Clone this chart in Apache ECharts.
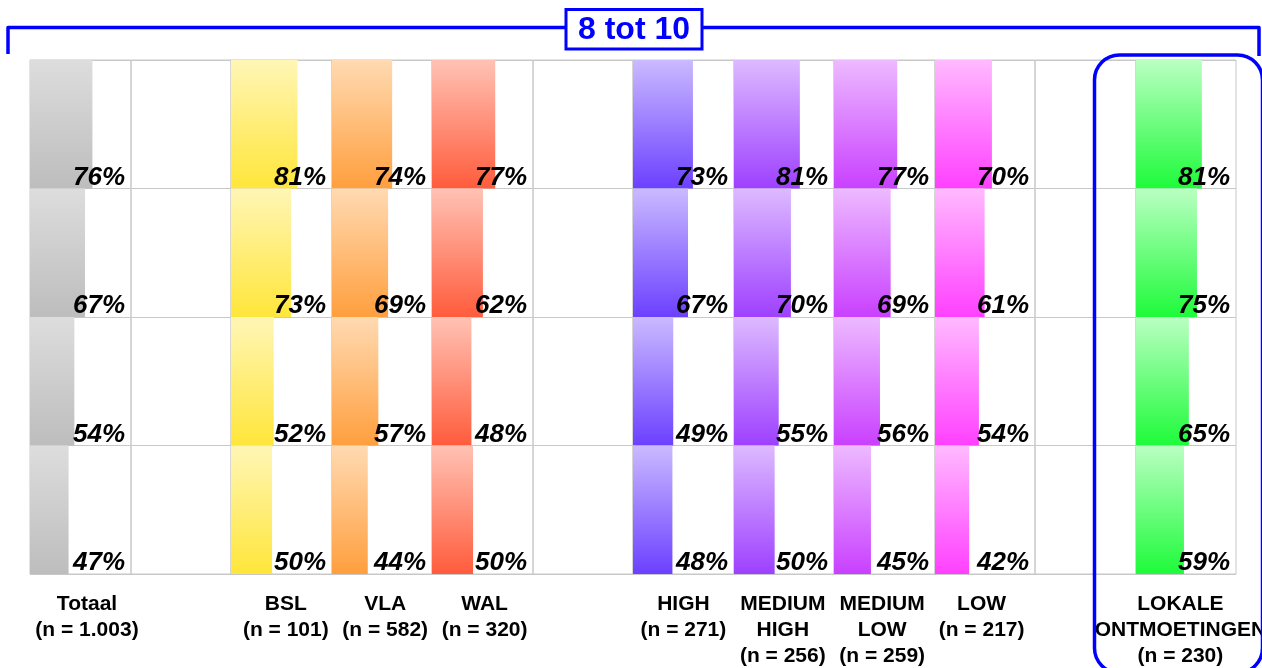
<!DOCTYPE html>
<html>
<head>
<meta charset="utf-8">
<script src="https://cdn.jsdelivr.net/npm/echarts@6/dist/echarts.min.js"></script>
<style>
html,body{margin:0;padding:0;background:#ffffff;}
#c{width:1262px;height:668px;}
</style>
</head>
<body>
<div id="c"></div>
<script>
// ---- data ----
const rows = ['Rij 1', 'Rij 2', 'Rij 3', 'Rij 4'];
const categories = [
  'Totaal\n(n = 1.003)', '',
  'BSL\n(n = 101)', 'VLA\n(n = 582)', 'WAL\n(n = 320)', '',
  'HIGH\n(n = 271)', 'MEDIUM\nHIGH\n(n = 256)', 'MEDIUM\nLOW\n(n = 259)', 'LOW\n(n = 217)', '',
  'LOKALE\nONTMOETINGEN\n(n = 230)'
];
const totaal     = [76, 67, 54, 47];
const bsl        = [81, 73, 52, 50];
const vla        = [74, 69, 57, 44];
const wal        = [77, 62, 48, 50];
const high       = [73, 67, 49, 48];
const mediumHigh = [81, 70, 55, 50];
const mediumLow  = [77, 69, 56, 45];
const low        = [70, 61, 54, 42];
const lokale     = [81, 75, 65, 59];
const headerText = '8 tot 10';

// ---- styling ----
const columnValues = [totaal, null, bsl, vla, wal, null, high, mediumHigh, mediumLow, low, null, lokale];
const columnColors = [
  ['#dddddd', '#bdbdbd'], null,
  ['#fff6b6', '#ffe63a'], ['#ffdab2', '#ff9f3e'], ['#ffc2b4', '#ff5c3c'], null,
  ['#cabaff', '#6c40ff'], ['#ddbaff', '#9e40ff'], ['#edbaff', '#c940ff'], ['#ffbaff', '#ff40ff'], null,
  ['#baffc2', '#1efb3a']
];
const AXIS_MAX = 123;
const FONT = '"Liberation Sans", Arial, sans-serif';
const L = 30, COLW = 100.5, T = 60, H = 514;
const LABEL_X0 = 87, LABEL_STEP = 99.4;   // centres of the category captions
const BORDER = '#c8c8c8';

const grids = [], xAxes = [], yAxes = [], series = [];
categories.forEach((cat, i) => {
  const left = Math.round(L + i * COLW), right = Math.round(L + (i + 1) * COLW);
  const centre = (left + right) / 2;
  const dx = (LABEL_X0 + i * LABEL_STEP) - centre;
  const pad = dx >= 0 ? [0, 0, 0, 2 * dx] : [0, -2 * dx, 0, 0];
  grids.push({
    left: left, top: T, width: right - left, height: H,
    show: true, borderColor: BORDER, borderWidth: 1, backgroundColor: 'transparent',
    containLabel: false, outerBoundsMode: 'none'
  });
  xAxes.push({
    gridIndex: i, type: 'value', min: 0, max: AXIS_MAX,
    axisLine: {show: false}, axisTick: {show: false}, axisLabel: {show: false}, splitLine: {show: false},
    name: cat, nameLocation: 'middle', nameGap: 17,
    nameTextStyle: {fontFamily: FONT, fontSize: 21, fontWeight: 'bold', color: '#000', lineHeight: 26,
                    align: 'center', verticalAlign: 'top', padding: pad}
  });
  yAxes.push({
    gridIndex: i, type: 'category', data: rows, inverse: true,
    axisLine: {show: false}, axisTick: {show: false}, axisLabel: {show: false, interval: 0},
    splitLine: {show: true, interval: 0, lineStyle: {color: BORDER, width: 1}}
  });
  const vals = columnValues[i];
  if (!vals) return;
  const c = columnColors[i];
  series.push({
    type: 'bar', xAxisIndex: i, yAxisIndex: i, data: vals,
    barWidth: '100%', barCategoryGap: 0, silent: true,
    itemStyle: {color: new echarts.graphic.LinearGradient(0, 0, 0, 1, [{offset: 0, color: c[0]}, {offset: 1, color: c[1]}])},
    z: 2
  });
  series.push({
    type: 'bar', xAxisIndex: i, yAxisIndex: i, data: vals.map(() => AXIS_MAX),
    barWidth: '100%', barGap: '-100%', silent: true,
    itemStyle: {color: 'rgba(0,0,0,0)'},
    label: {
      show: true, position: ['100%', '100%'], align: 'right', verticalAlign: 'bottom', offset: [-6, 2],
      formatter: p => vals[p.dataIndex] + '%',
      fontFamily: FONT, fontSize: 26, fontWeight: 'bold', fontStyle: 'italic', color: '#000'
    },
    z: 3
  });
});

const BLUE = '#0000ff';
const option = {
  animation: false,
  backgroundColor: '#ffffff',
  grid: grids, xAxis: xAxes, yAxis: yAxes, series: series,
  graphic: [
    {type: 'polyline', z: 100, shape: {points: [[8, 54], [8, 27.5], [1259, 27.5], [1259, 56]]},
     style: {stroke: BLUE, lineWidth: 3.5, fill: null, lineJoin: 'round'}},
    {type: 'rect', z: 101, shape: {x: 566, y: 9.5, width: 136, height: 39.5},
     style: {fill: '#ffffff', stroke: BLUE, lineWidth: 3}},
    {type: 'text', z: 102, x: 634, y: 30,
     style: {text: headerText, fill: BLUE, font: 'bold 32px ' + FONT, align: 'center', verticalAlign: 'middle'}},
    {type: 'rect', z: 100, shape: {x: 1094.5, y: 55, width: 168, height: 618, r: 25},
     style: {fill: null, stroke: BLUE, lineWidth: 3.5}}
  ]
};
const chart = echarts.init(document.getElementById('c'), null, {renderer: 'canvas'});
chart.setOption(option);
</script>
</body>
</html>
